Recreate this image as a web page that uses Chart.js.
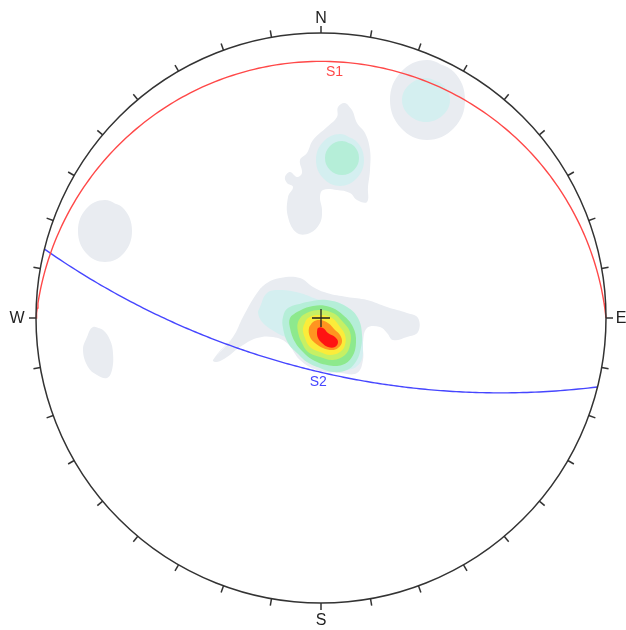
<!DOCTYPE html>
<html>
<head>
<meta charset="utf-8">
<script src="https://cdn.jsdelivr.net/npm/chart.js@4.4.1/dist/chart.umd.min.js"></script>
<style>
html,body{margin:0;padding:0;background:#fff;}
canvas{display:block;}
</style>
</head>
<body>
<canvas id="c" width="626" height="630"></canvas>
<script>
// Stereonet radius in projection units (equal-angle, lower hemisphere)
const R = 285;

// Planes (great circles)
const planeNames = ['S1', 'S2'];
const planeStrikes = [270, 104];
const planeDips = [6, 69];
const planeLabelX = [14, -3];

// Pole density contours (projection units: x east, y north)
const levelGrey = [
  [[-108,-42],[-88,-19],[-78,1],[-64,25],[-54,35],[-41,40],[-21,40],[-8,31],[6,25],[26,21],[46,18],[66,11],[86,5],[97,0],[97,-14],[86,-19],[72,-22],[66,-15],[59,-9],[46,-10],[42,-25],[42,-42],[36,-55],[19,-55],[-4,-52],[-21,-42],[-34,-25],[-48,-19],[-64,-20],[-81,-29],[-94,-39],[-104,-44]],
  [[24,215],[31,208],[36,195],[44,185],[49,168],[49,148],[47,131],[46,116],[36,118],[29,125],[16,128],[2,128],[-1,121],[1,108],[-1,95],[-11,85],[-24,85],[-33,101],[-33,121],[-28,131],[-34,135],[-36,141],[-31,146],[-24,141],[-19,145],[-21,158],[-14,165],[-8,178],[6,191],[16,201],[17,211]],
  [[106,258],[133,246],[144,218],[133,190],[106,178],[80,190],[69,218],[80,246]],
  [[-216,118],[-197,109],[-189,87],[-197,65],[-216,56],[-235,65],[-243,87],[-235,109]],
  [[-228,-9],[-218,-12],[-211,-22],[-208,-35],[-209,-52],[-214,-60],[-224,-57],[-233,-49],[-238,-32],[-234,-19]]
];
const levelCyan = [
  [[-63,5],[-61,11],[-54,25],[-41,28],[-21,25],[-1,18],[19,15],[32,5],[39,-9],[42,-29],[39,-45],[26,-52],[6,-49],[-14,-39],[-31,-22],[-44,-15],[-58,-5]],
  [[19,184],[36,176],[43,158],[36,140],[19,132],[2,140],[-5,158],[2,176]],
  [[105,240],[122,233],[129,218],[122,203],[105,196],[88,203],[81,218],[88,233]]
];
const levelMint = [
  [[-33,10],[-14,16],[6,18],[26,11],[37,0],[41,-17],[39,-34],[34,-45],[26,-52],[12,-54],[-1,-50],[-14,-44],[-24,-35],[-33,-25],[-38,-10],[-38,1]],
  [[21,177],[33,172],[38,160],[33,148],[21,143],[9,148],[4,160],[9,172]]
];
const levelGreen = [
  [[-31,0],[-24,6],[-8,12],[9,11],[22,3],[32,-9],[35,-24],[31,-39],[21,-47],[6,-47],[-8,-42],[-18,-34],[-26,-24],[-31,-10]]
];
const levelLime = [
  [[-23,-4],[-18,3],[-3,8],[12,5],[22,-4],[29,-14],[29,-27],[24,-37],[12,-42],[-1,-39],[-13,-34],[-19,-25],[-23,-14]]
];
const levelYellow = [
  [[-18,-10],[-13,0],[-1,3],[11,0],[19,-9],[24,-17],[24,-27],[19,-34],[9,-37],[-1,-34],[-11,-29],[-16,-20]]
];
const levelOrange = [
  [[-12,-10],[-8,-4],[-1,-2],[7,-5],[14,-12],[19,-17],[21,-24],[17,-30],[11,-32],[2,-30],[-6,-25],[-11,-19]]
];
const levelRed = [
  [[-4,-14],[-3,-10],[2,-10],[7,-15],[14,-19],[17,-24],[14,-29],[7,-29],[1,-25],[-3,-20]]
];

const levels = [
  {polys: levelGrey,   color: '#e9ecf1'},
  {polys: levelCyan,   color: '#d4eff0'},
  {polys: levelMint,   color: '#b5eed8'},
  {polys: levelGreen,  color: '#8de98d'},
  {polys: levelLime,   color: '#c6f064'},
  {polys: levelYellow, color: '#fbec3a'},
  {polys: levelOrange, color: '#ff9420'},
  {polys: levelRed,    color: '#ff1212'}
];
const planeColors = ['#ff4848', '#4646ff'];

const deg = Math.PI / 180;
function project(trend, plunge) {
  const r = R * Math.tan((90 - plunge) / 2 * deg);
  return {x: r * Math.sin(trend * deg), y: r * Math.cos(trend * deg)};
}
function greatCircle(strike, dip) {
  const s = [Math.sin(strike * deg), Math.cos(strike * deg), 0];
  const dd = strike + 90;
  const d = [Math.sin(dd * deg) * Math.cos(dip * deg), Math.cos(dd * deg) * Math.cos(dip * deg), -Math.sin(dip * deg)];
  const pts = [];
  for (let t = 0; t <= 180; t += 1) {
    const c = Math.cos(t * deg), sn = Math.sin(t * deg);
    const v = [c * s[0] + sn * d[0], c * s[1] + sn * d[1], c * s[2] + sn * d[2]];
    const plunge = Math.asin(Math.min(1, Math.max(0, -v[2]))) / deg;
    const trend = Math.atan2(v[0], v[1]) / deg;
    pts.push(project(trend, plunge));
  }
  return pts;
}

// Chart.js draws dataset 0 on top, so build from top (planes) to bottom (outer contour)
const datasets = [];
const circles = planeNames.map((n, i) => greatCircle(planeStrikes[i], planeDips[i]));
circles.forEach((pts, i) => {
  datasets.push({
    data: pts, showLine: true, fill: false, tension: 0, clip: false,
    borderColor: planeColors[i], borderWidth: 1.4,
    pointRadius: 0, pointHoverRadius: 0
  });
});
levels.slice().reverse().forEach(lv => {
  lv.polys.forEach(poly => {
    const pts = poly.concat([poly[0], poly[1]]).map(([x, y]) => ({x, y}));
    datasets.push({
      data: pts, showLine: true, fill: 'shape', tension: 0.4,
      backgroundColor: lv.color, borderColor: lv.color, borderWidth: 0,
      pointRadius: 0, pointHoverRadius: 0
    });
  });
});

const frame = {
  id: 'frame',
  afterDatasetsDraw(chart) {
    const {ctx, scales: {x, y}} = chart;
    const cx = x.getPixelForValue(0), cy = y.getPixelForValue(0);
    const r = x.getPixelForValue(R) - cx;
    ctx.save();
    ctx.strokeStyle = '#333';
    ctx.lineWidth = 1.5;
    ctx.beginPath();
    ctx.arc(cx, cy, r, 0, Math.PI * 2);
    ctx.stroke();
    for (let a = 0; a < 360; a += 10) {
      const sx = Math.sin(a * deg), cy2 = -Math.cos(a * deg);
      ctx.beginPath();
      ctx.moveTo(cx + sx * r, cy + cy2 * r);
      ctx.lineTo(cx + sx * (r + 7), cy + cy2 * (r + 7));
      ctx.stroke();
    }
    // center cross
    ctx.lineWidth = 1.3;
    ctx.strokeStyle = '#222';
    ctx.beginPath();
    ctx.moveTo(cx - 9, cy); ctx.lineTo(cx + 9, cy);
    ctx.moveTo(cx, cy - 9); ctx.lineTo(cx, cy + 9);
    ctx.stroke();
    // cardinal labels
    ctx.fillStyle = '#222';
    ctx.font = '16px "Liberation Sans", Arial, sans-serif';
    ctx.textAlign = 'center';
    ctx.textBaseline = 'middle';
    ctx.fillText('N', cx, cy - r - 14);
    ctx.fillText('S', cx, cy + r + 18);
    ctx.fillText('W', cx - r - 19, cy + 1);
    ctx.fillText('E', cx + r + 15, cy + 1);
    // plane labels
    ctx.font = '14px "Liberation Sans", Arial, sans-serif';
    planeNames.forEach((name, i) => {
      const pts = circles[i];
      let best = pts[0];
      pts.forEach(p => { if (Math.abs(p.x - planeLabelX[i]) < Math.abs(best.x - planeLabelX[i])) best = p; });
      ctx.fillStyle = planeColors[i];
      ctx.fillText(name, x.getPixelForValue(best.x), y.getPixelForValue(best.y) + 10);
    });
    ctx.restore();
  }
};

new Chart(document.getElementById('c'), {
  type: 'scatter',
  data: {datasets},
  options: {
    responsive: false,
    animation: false,
    devicePixelRatio: 1,
    layout: {padding: {left: 36, right: 20, top: 33, bottom: 27}},
    scales: {
      x: {type: 'linear', min: -R, max: R, display: false},
      y: {type: 'linear', min: -R, max: R, display: false}
    },
    plugins: {legend: {display: false}, tooltip: {enabled: false}},
    events: []
  },
  plugins: [frame]
});
</script>
</body>
</html>
